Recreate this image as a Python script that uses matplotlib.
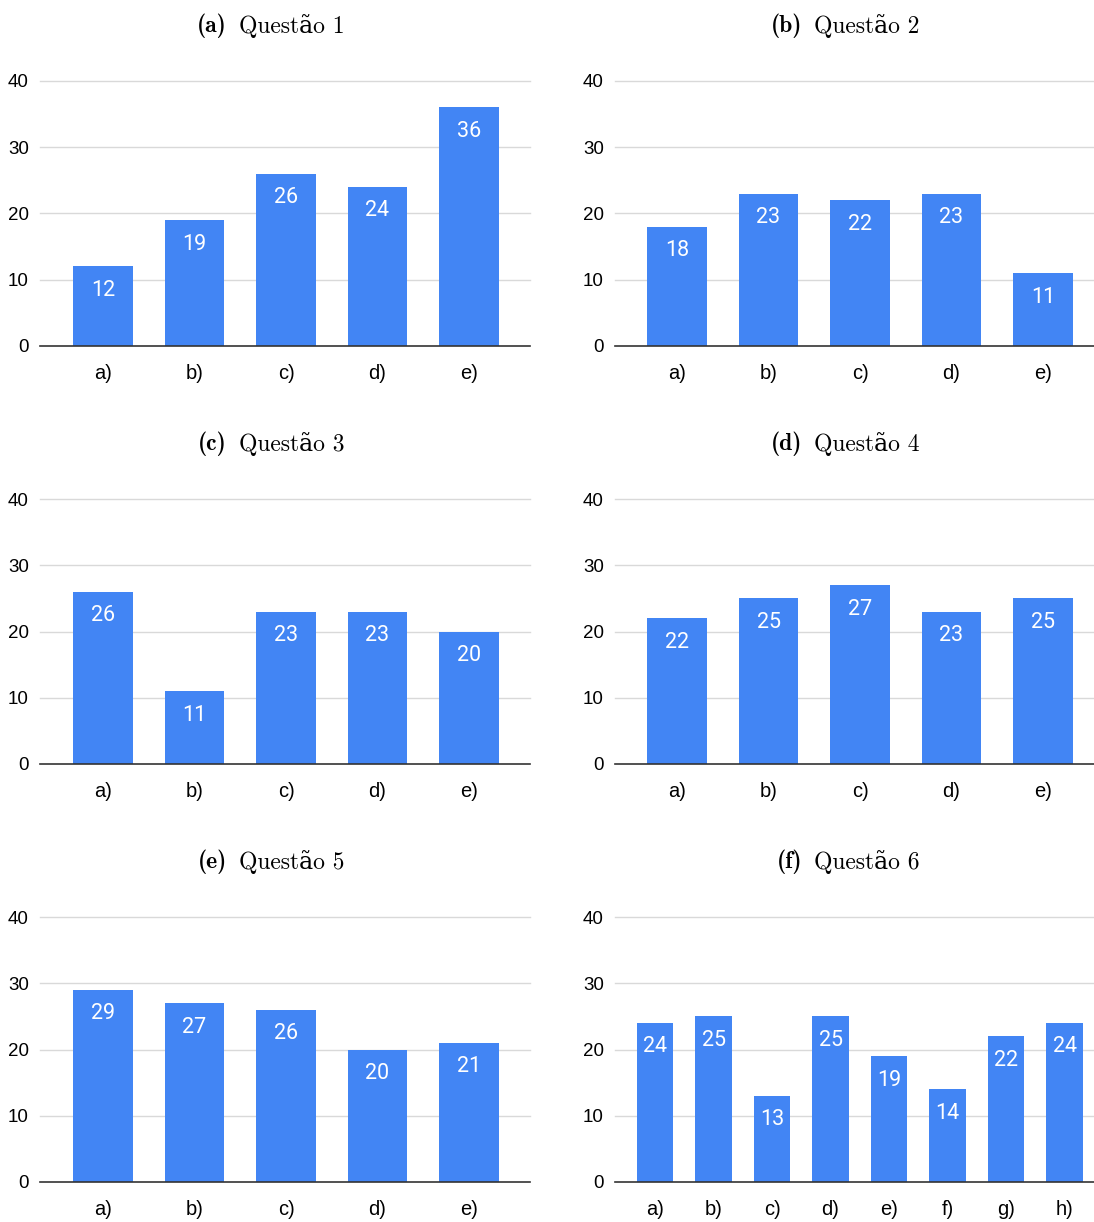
import matplotlib
matplotlib.use("Agg")
import matplotlib.pyplot as plt

# Answer counts per question
panel_tags = ["(a)", "(b)", "(c)", "(d)", "(e)", "(f)"]
panel_titles = ["Questão 1", "Questão 2", "Questão 3", "Questão 4", "Questão 5", "Questão 6"]
options_5 = ["a)", "b)", "c)", "d)", "e)"]
options_8 = ["a)", "b)", "c)", "d)", "e)", "f)", "g)", "h)"]
q1 = [12, 19, 26, 24, 36]
q2 = [18, 23, 22, 23, 11]
q3 = [26, 11, 23, 23, 20]
q4 = [22, 25, 27, 23, 25]
q5 = [29, 27, 26, 20, 21]
q6 = [24, 25, 13, 25, 19, 14, 22, 24]
yticks = [0, 10, 20, 30, 40]

series = [(options_5, q1), (options_5, q2), (options_5, q3),
          (options_5, q4), (options_5, q5), (options_8, q6)]

W, H = 1094, 1222
fig = plt.figure(figsize=(W / 100, H / 100), dpi=100)

BAR = "#4285F4"
VALUE_FONT = ["Roboto", "DejaVu Sans"]
TICK_FONT = ["Liberation Sans", "DejaVu Sans"]

cols = [(40, 530), (615, 1094)]
rows = [(81, 346), (499, 764), (917, 1182)]
title_y = [26, 444, 862]
tag_right = [227, 802]

for i, (cats, vals) in enumerate(series):
    r, c = divmod(i, 2)
    x0, x1 = cols[c]
    y0, y1 = rows[r]
    ax = fig.add_axes([x0 / W, 1 - y1 / H, (x1 - x0) / W, (y1 - y0) / H])
    n = len(cats)
    xs = list(range(n))
    width = 0.65 if n == 5 else 0.63
    ax.bar(xs, vals, width=width, color=BAR, zorder=3)
    for x, v in zip(xs, vals):
        ax.annotate(str(v), (x, v), xytext=(0, -24), textcoords="offset pixels",
                    ha="center", va="center", color="white", fontsize=15.5,
                    family=VALUE_FONT, zorder=4)
    if n == 5:
        if c == 0:
            ax.set_xlim(-0.689, 4.667)
        else:
            ax.set_xlim(-0.678, 4.557)
    else:
        ax.set_xlim(-0.684, 7.504)
    ax.set_ylim(0, 40)
    ax.set_yticks(yticks)
    ax.set_xticks(xs)
    ax.set_xticklabels(cats, family=TICK_FONT, fontsize=14.5)
    ax.set_yticklabels([str(t) for t in yticks], family=TICK_FONT, fontsize=13.5)
    for t in yticks[1:]:
        ax.axhline(t, color="#d9d9d9", lw=1.0, zorder=1, clip_on=False)
    ax.axhline(0, color="#333333", lw=1.2, zorder=5, clip_on=False)
    for s in ax.spines.values():
        s.set_visible(False)
    ax.tick_params(axis="both", length=0)
    ax.tick_params(axis="y", pad=8)
    ax.tick_params(axis="x", pad=13)
    ax.set_facecolor("none")

    # Subfigure caption: bold tag followed by the question name
    ty = 1 - title_y[r] / H
    fig.text(tag_right[c] / W, ty, panel_tags[i], ha="right", va="center",
             fontsize=17, family=["cmb10", "DejaVu Serif"], fontweight="bold")
    fig.text((tag_right[c] + 12) / W, ty, panel_titles[i], ha="left", va="center",
             fontsize=17, family=["cmr10", "DejaVu Serif"])

fig.savefig("out.png", dpi=100, facecolor="white")
